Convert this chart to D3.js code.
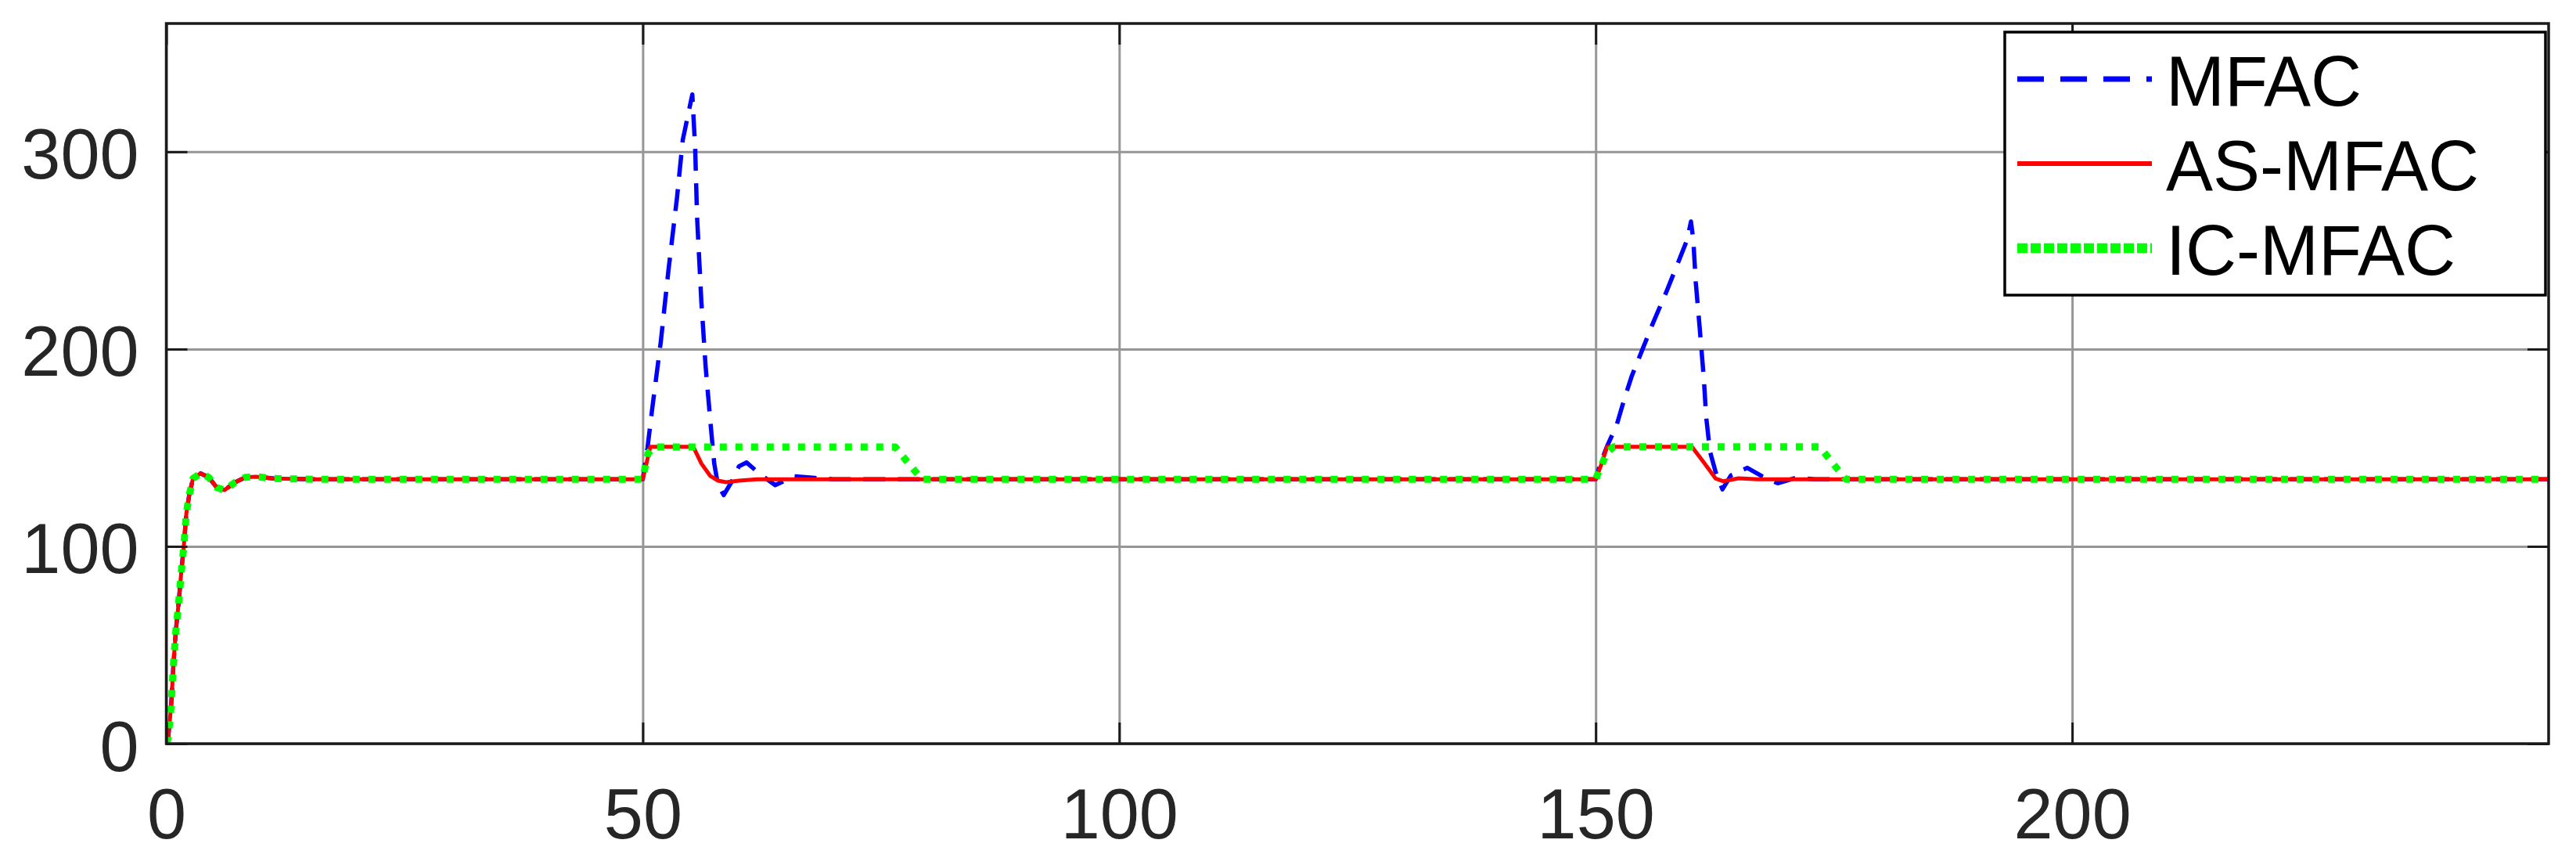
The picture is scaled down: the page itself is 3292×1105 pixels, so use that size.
<!DOCTYPE html>
<html>
<head>
<meta charset="utf-8">
<script src="https://cdn.jsdelivr.net/npm/d3@7"></script>
<style>
  body { margin: 0; background: #fff; }
  text { font-family: 'Liberation Sans', Arial, Helvetica, sans-serif; }
</style>
</head>
<body>
<svg width="3292" height="1105"></svg>
<script>
// series names
let names = ['MFAC', 'AS-MFAC', 'IC-MFAC']

// start-up response, shared by all three controllers (k = 0 .. 15)
let startT = [0, 0.2, 0.5, 0.75, 1.0, 1.3, 1.57, 1.85, 2.1, 2.4, 2.8, 3.6, 4.45, 5.3, 6.1, 7.2, 8.3, 9.4, 11.3, 15.4]
let startV = [0, 3, 18.5, 40, 57, 71.5, 86.7, 100.7, 116.5, 125.8, 134.4, 137, 135, 129.8, 128.5, 132.4, 135, 135.3, 134.4, 134]

// MFAC after start-up
let mfacT = [50, 50.5, 51, 51.9, 52.7, 53.6, 54.2, 55.2, 55.5, 55.7, 56.15, 56.6, 57.1, 57.5, 57.9, 58.5, 59.3, 60.1, 60.9, 62.3, 63.9, 65.9, 67.8, 70,
  150, 150.5, 151.2, 152.2, 153, 153.8, 154.9, 156, 157.4, 158.5, 159.6, 160, 160.25, 160.5, 160.9, 161.35, 161.6, 162, 162.6, 163.3, 164.2, 165.9, 167.5, 169.1, 171, 173, 250]
let mfacV = [134, 150, 170, 204, 240, 277, 306, 329, 302, 267, 224, 191, 163, 142, 131, 126, 132.5, 140.6, 142.5, 136.6, 131, 135.5, 134.8, 134,
  134, 142, 150.8, 161.4, 174.6, 186.5, 199.7, 213, 228.8, 242, 255.4, 264.6, 255, 234, 211.6, 185, 165.3, 148, 137.5, 128.9, 136, 139.8, 135.4, 132, 134.7, 134, 134]

// AS-MFAC after start-up
let asT = [50, 50.8, 55.3, 56.15, 57.1, 57.9, 58.75, 60.1, 62, 150, 150.55, 151.2, 160.1, 161.35, 162.6, 163.4, 165, 167, 250]
let asV = [134, 150.5, 150.5, 142, 135.6, 133.3, 132.5, 133.3, 134, 134, 141, 150.5, 150.5, 142.5, 134.3, 133, 134.5, 134, 134]

// IC-MFAC after start-up
let icT = [50, 50.3, 50.55, 51.1, 76.5, 77.9, 79.3, 150, 150.5, 151.2, 151.9, 173.5, 174.9, 176.25, 250]
let icV = [134, 141.5, 147, 150.4, 150.4, 142, 134, 134, 140, 147.6, 150.5, 150.5, 142, 134, 134]

let xTicks = [0, 50, 100, 150, 200]
let yTicks = [0, 100, 200, 300]
let xDomain = [0, 250]
let yDomain = [0, 365]

let styles = [
  { color: '#0000ff', width: 5.5, dash: '28,16', lWidth: 7, lDash: '34,21' },
  { color: '#ff0000', width: 5, dash: null, lWidth: 6, lDash: null },
  { color: '#00ff00', width: 9, dash: '9,11', lWidth: 12.5, lDash: '13,4' }
]

let pairs = (t, v) => t.map((d, i) => [d, v[i]])
let series = [
  pairs(startT.concat(mfacT), startV.concat(mfacV)),
  pairs(startT.concat(asT), startV.concat(asV)),
  pairs(startT.concat(icT), startV.concat(icV))
]

let mLeft = 212.5, mRight = 3257, mTop = 30, mBottom = 950
let fs = 90

let svg = d3.select('svg')

let x = d3.scaleLinear().domain(xDomain).range([mLeft, mRight])
let y = d3.scaleLinear().domain(yDomain).range([mBottom, mTop])

svg.append('rect')
  .attr('width', 3292).attr('height', 1105).attr('fill', '#fff')

// grid
let grid = svg.append('g')
grid.append('g')
  .attr('transform', 'translate(0,' + mBottom + ')')
  .call(d3.axisBottom(x).tickValues(xTicks).tickSize(-(mBottom - mTop)).tickFormat(''))
grid.append('g')
  .attr('transform', 'translate(' + mLeft + ',0)')
  .call(d3.axisLeft(y).tickValues(yTicks).tickSize(-(mRight - mLeft)).tickFormat(''))
grid.selectAll('.domain').remove()
grid.selectAll('line').attr('stroke', '#969696').attr('stroke-width', 3)
grid.selectAll('.tick').attr('class', 'gtick')

// lines
svg.append('clipPath').attr('id', 'clip')
  .append('rect').attr('x', mLeft).attr('y', mTop).attr('width', mRight - mLeft).attr('height', mBottom - mTop)

let line = d3.line().x(d => x(d[0])).y(d => y(d[1]))

svg.append('g')
  .attr('clip-path', 'url(#clip)')
  .selectAll('path')
  .data(series)
  .enter()
  .append('path')
  .attr('d', line)
  .attr('fill', 'none')
  .attr('stroke', (d, i) => styles[i].color)
  .attr('stroke-width', (d, i) => styles[i].width)
  .attr('stroke-dasharray', (d, i) => styles[i].dash)
  .attr('stroke-linejoin', 'round')

// axes, ticks pointing inward on all four sides
let tk = 27
let axB = svg.append('g')
  .attr('transform', 'translate(0,' + mBottom + ')')
  .call(d3.axisBottom(x).tickValues(xTicks).tickSize(-tk).tickPadding(0))
axB.selectAll('text').attr('y', 121).attr('dy', 0)

svg.append('g')
  .attr('transform', 'translate(0,' + mTop + ')')
  .call(d3.axisTop(x).tickValues(xTicks).tickSize(-tk).tickFormat(''))

let axL = svg.append('g')
  .attr('transform', 'translate(' + mLeft + ',0)')
  .call(d3.axisLeft(y).tickValues(yTicks).tickSize(-tk).tickPadding(35))
axL.selectAll('text').attr('dy', 34)

svg.append('g')
  .attr('transform', 'translate(' + mRight + ',0)')
  .call(d3.axisRight(y).tickValues(yTicks).tickSize(-tk).tickFormat(''))

svg.selectAll('.tick line').attr('stroke', '#1a1a1a').attr('stroke-width', 3)
svg.selectAll('.domain').remove()
svg.selectAll('.tick text')
  .attr('font-size', fs)
  .attr('font-family', "'Liberation Sans', Arial, Helvetica, sans-serif")
  .attr('fill', '#262626')

svg.append('rect')
  .attr('x', mLeft).attr('y', mTop)
  .attr('width', mRight - mLeft).attr('height', mBottom - mTop)
  .attr('fill', 'none').attr('stroke', '#1a1a1a').attr('stroke-width', 3.5)

// legend
let lg = svg.append('g')
lg.append('rect')
  .attr('x', 2562).attr('y', 41).attr('width', 691).attr('height', 336)
  .attr('fill', '#fff').attr('stroke', '#000').attr('stroke-width', 3.5)

let item = lg.selectAll('.item')
  .data(names)
  .enter()
  .append('g')
  .attr('transform', (d, i) => 'translate(0,' + (101 + i * 108) + ')')

item.append('line')
  .attr('x1', 2578).attr('x2', 2750)
  .attr('stroke', (d, i) => styles[i].color)
  .attr('stroke-width', (d, i) => styles[i].lWidth)
  .attr('stroke-dasharray', (d, i) => styles[i].lDash)

item.append('text')
  .attr('x', 2768).attr('y', 34)
  .attr('font-size', fs)
  .attr('fill', '#000')
  .text(d => d)
</script>
</body>
</html>
